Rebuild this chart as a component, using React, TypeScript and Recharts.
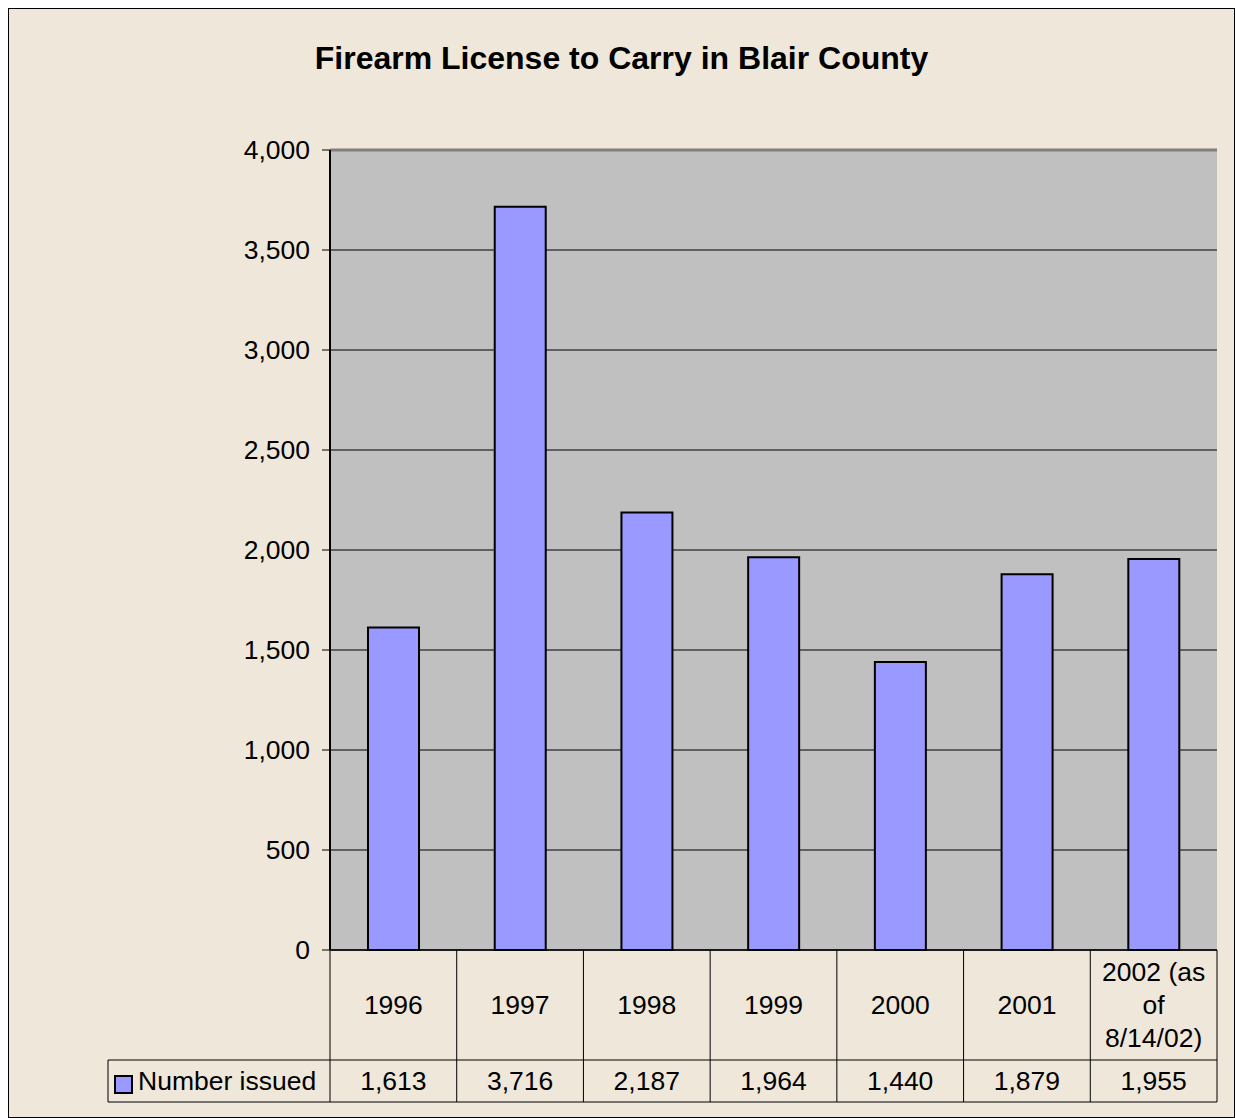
import React from 'react';
import { BarChart, Bar, XAxis, YAxis, CartesianGrid, ReferenceLine } from 'recharts';

const years = ['1996', '1997', '1998', '1999', '2000', '2001', '2002 (as of 8/14/02)'];
const yearLines = [['1996'], ['1997'], ['1998'], ['1999'], ['2000'], ['2001'], ['2002 (as', 'of', '8/14/02)']];
const issued = [1613, 3716, 2187, 1964, 1440, 1879, 1955];
const yTicks = [0, 500, 1000, 1500, 2000, 2500, 3000, 3500, 4000];
const seriesName = 'Number issued';

const data = years.map((y, i) => ({ year: y, issued: issued[i] }));

const W = 1227;
const H = 1110;
const FONT = '"Liberation Sans", Arial, sans-serif';
const FS = 26.5;
const PLOT_LEFT = 322;
const PLOT_RIGHT = 1209;
const PLOT_BOTTOM = 942;
const ROW_SPLIT = 1052;
const TABLE_BOTTOM = 1094;
const LEGEND_LEFT = 100;
const BAND = (PLOT_RIGHT - PLOT_LEFT) / years.length;

const fmt = (v: number) => v.toLocaleString('en-US');

const TableTick = (props: any) => {
  const { x, index } = props;
  const lines = yearLines[index];
  const lh = 33;
  const midY = (PLOT_BOTTOM + ROW_SPLIT) / 2;
  const startY = midY - ((lines.length - 1) * lh) / 2;
  const left = x - BAND / 2;
  return (
    <g>
      <line x1={left} y1={PLOT_BOTTOM} x2={left} y2={TABLE_BOTTOM} stroke="#000" strokeWidth={1} />
      {index === years.length - 1 && (
        <line x1={left + BAND} y1={PLOT_BOTTOM} x2={left + BAND} y2={TABLE_BOTTOM} stroke="#000" strokeWidth={1} />
      )}
      {index === 0 && (
        <g>
          <line x1={LEGEND_LEFT} y1={ROW_SPLIT} x2={PLOT_RIGHT} y2={ROW_SPLIT} stroke="#000" strokeWidth={1} />
          <line x1={LEGEND_LEFT} y1={TABLE_BOTTOM} x2={PLOT_RIGHT} y2={TABLE_BOTTOM} stroke="#000" strokeWidth={1} />
          <line x1={LEGEND_LEFT} y1={ROW_SPLIT} x2={LEGEND_LEFT} y2={TABLE_BOTTOM} stroke="#000" strokeWidth={1} />
          <rect x={107} y={1068} width={17} height={17} fill="#9999FF" stroke="#000" strokeWidth={2} />
          <text x={130} y={(ROW_SPLIT + TABLE_BOTTOM) / 2} dominantBaseline="central" fontSize={FS} fontFamily={FONT} fill="#000">
            {seriesName}
          </text>
        </g>
      )}
      {lines.map((ln, i) => (
        <text key={i} x={x} y={startY + i * lh} textAnchor="middle" dominantBaseline="central" fontSize={FS} fontFamily={FONT} fill="#000">
          {ln}
        </text>
      ))}
      <text x={x} y={(ROW_SPLIT + TABLE_BOTTOM) / 2} textAnchor="middle" dominantBaseline="central" fontSize={FS} fontFamily={FONT} fill="#000">
        {fmt(issued[index])}
      </text>
    </g>
  );
};

export default function App() {
  return (
    <div
      style={{
        position: 'absolute',
        left: 8,
        top: 8,
        width: W,
        height: H,
        boxSizing: 'border-box',
        border: '1px solid #000',
        background: '#EFE7D9',
        overflow: 'hidden',
      }}
    >
      <div
        style={{
          position: 'absolute',
          left: 0,
          right: 0,
          top: 30,
          textAlign: 'center',
          fontFamily: FONT,
          fontWeight: 'bold',
          fontSize: 32,
          lineHeight: '38px',
          color: '#000',
        }}
      >
        Firearm License to Carry in Blair County
      </div>
      <div style={{ position: 'absolute', left: -1, top: -1 }}>
        <BarChart
          width={W}
          height={H}
          data={data}
          margin={{ top: 142, right: W - PLOT_RIGHT, left: PLOT_LEFT - 90, bottom: 0 }}
          barCategoryGap="30%"
        >
          <CartesianGrid vertical={false} stroke="#000" strokeWidth={1} fill="#C0C0C0" fillOpacity={1} />
          <XAxis
            dataKey="year"
            height={H - PLOT_BOTTOM}
            axisLine={{ stroke: '#000', strokeWidth: 1.5 }}
            tickLine={false}
            interval={0}
            tick={<TableTick />}
          />
          <YAxis
            width={90}
            domain={[0, 4000]}
            ticks={yTicks}
            interval={0}
            tickFormatter={fmt}
            axisLine={{ stroke: '#000', strokeWidth: 2 }}
            tickLine={{ stroke: '#000' }}
            tickSize={8}
            tickMargin={12}
            tick={{ fill: '#000', fontSize: FS, fontFamily: FONT }}
          />
          <YAxis
            yAxisId="right"
            orientation="right"
            width={0}
            domain={[0, 4000]}
            tick={false}
            tickLine={false}
            axisLine={{ stroke: '#808080', strokeWidth: 3 }}
          />
          <ReferenceLine y={4000} stroke="#808080" strokeWidth={3} />
          <Bar dataKey="issued" fill="#9999FF" stroke="#000" strokeWidth={2} isAnimationActive={false} />
        </BarChart>
      </div>
    </div>
  );
}
